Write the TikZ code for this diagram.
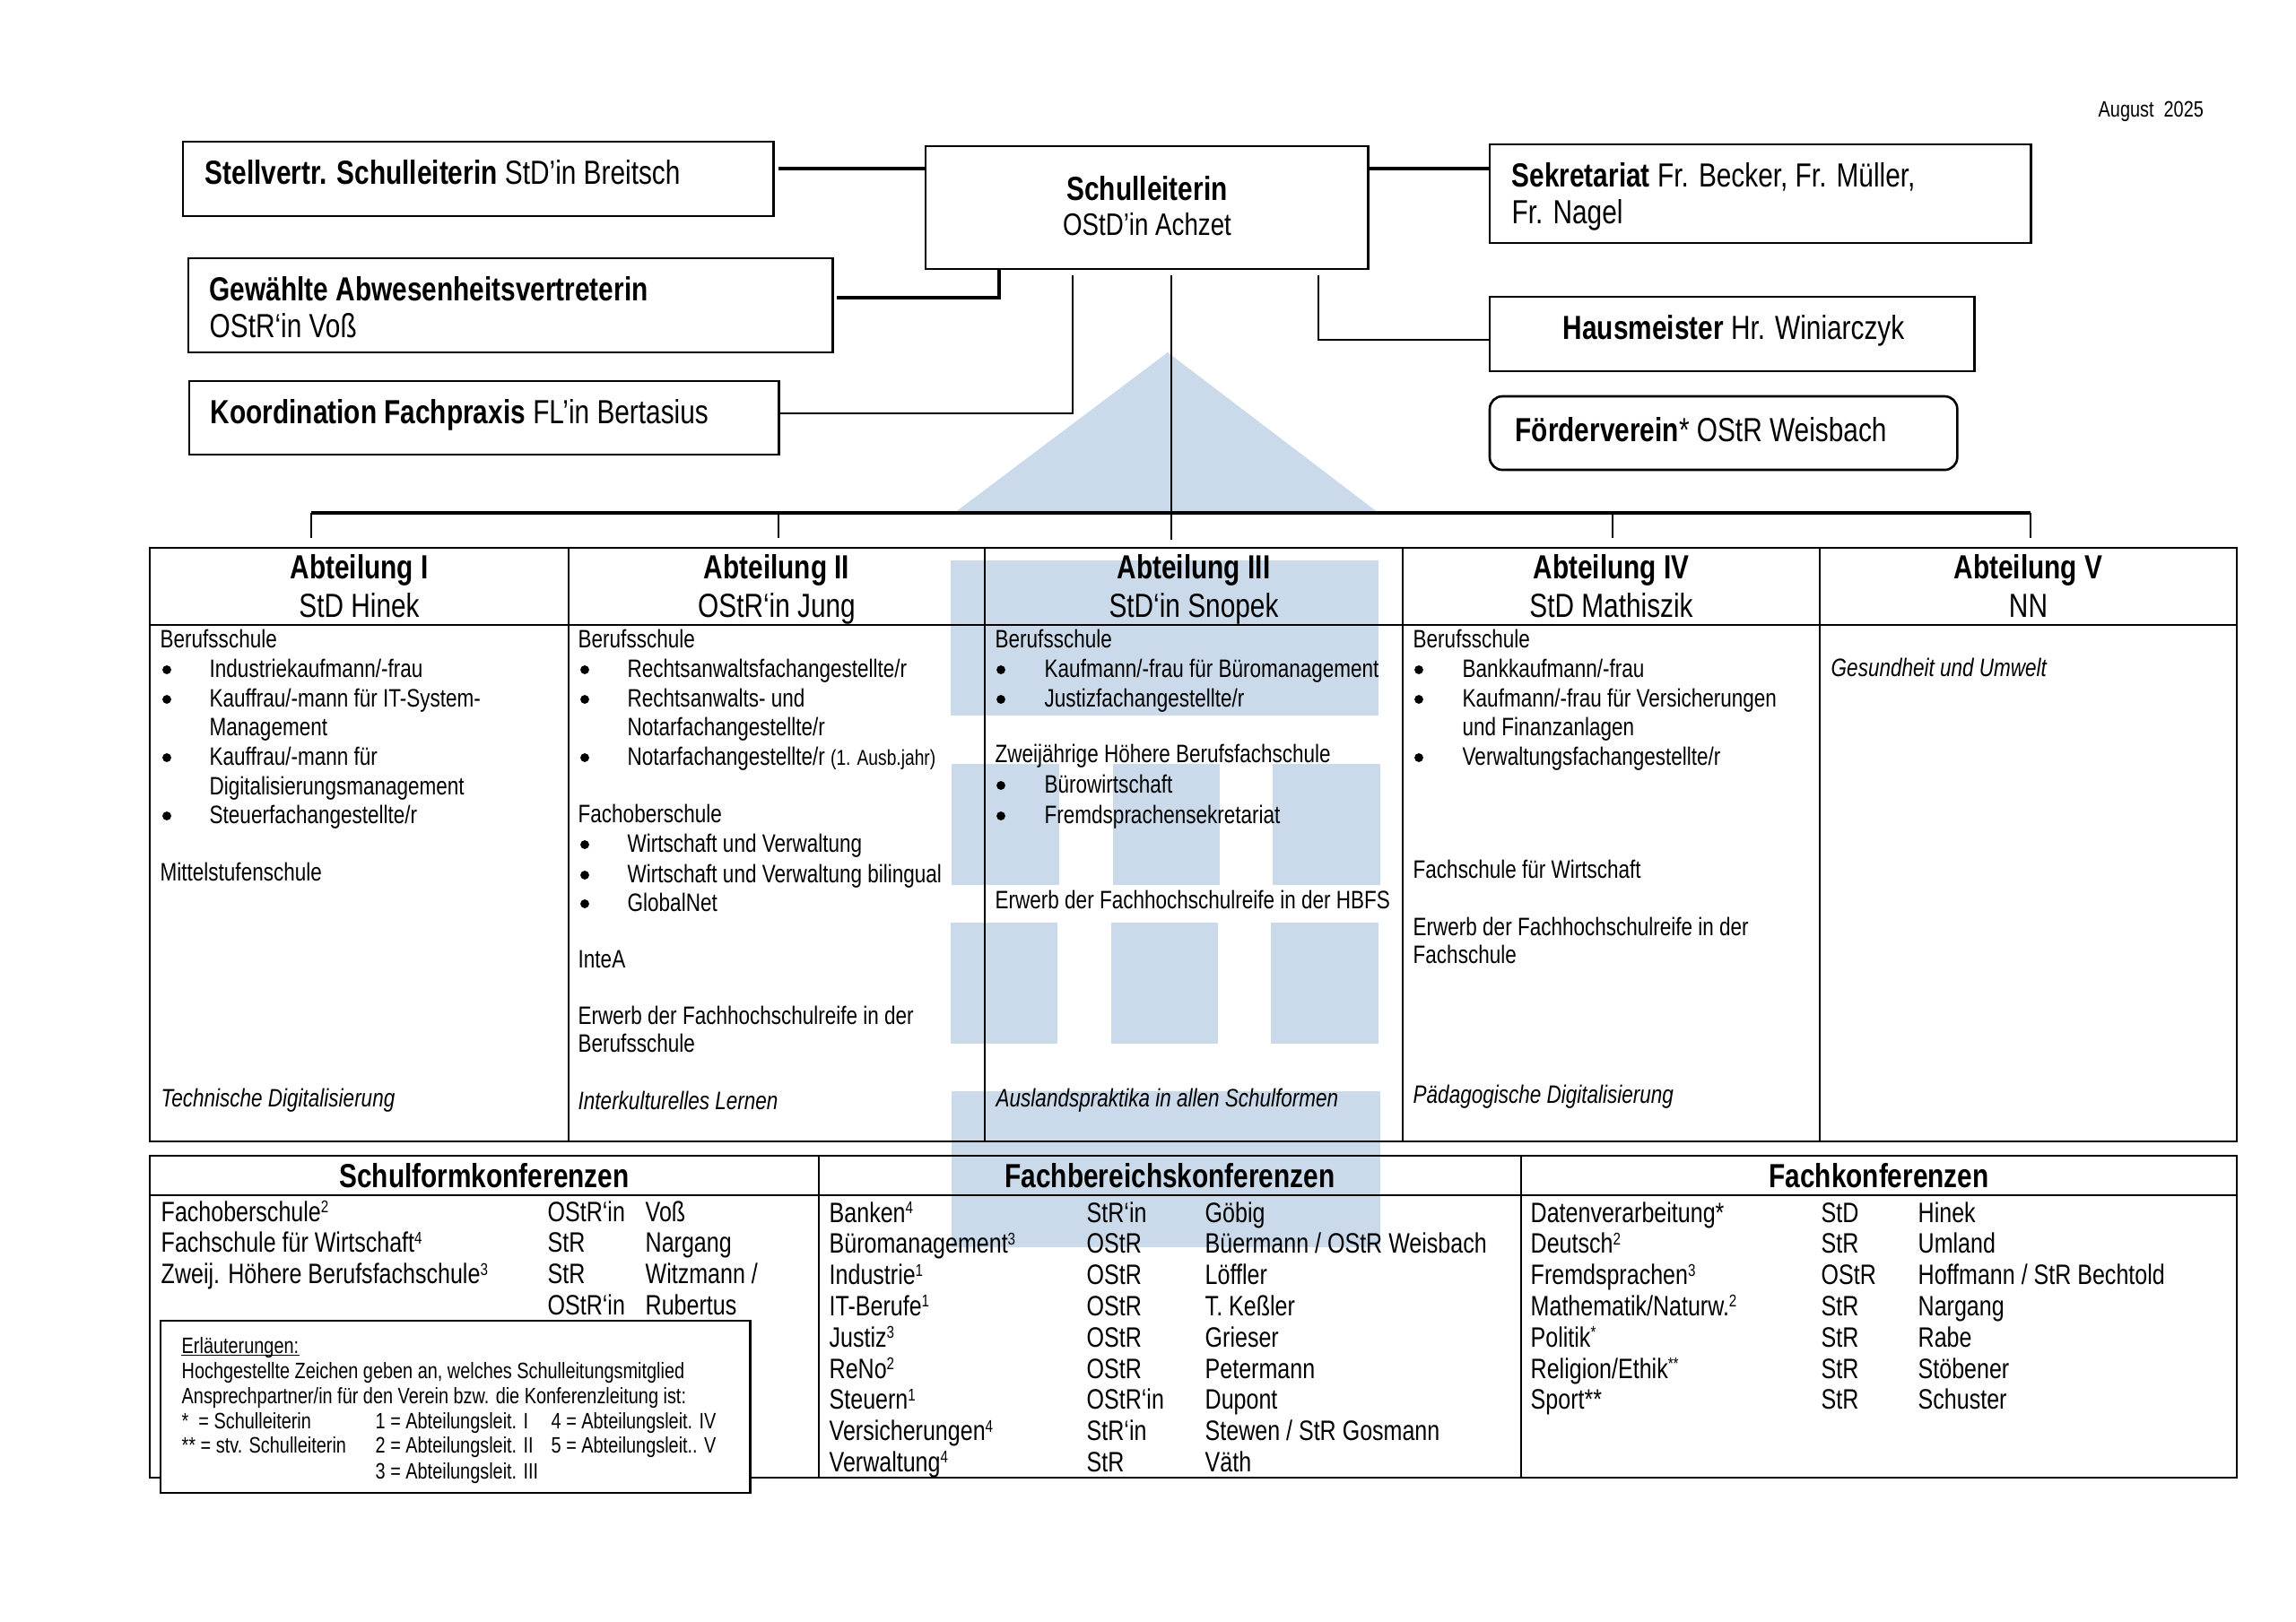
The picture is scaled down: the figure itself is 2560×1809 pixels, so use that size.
\documentclass[tikz,border=0pt]{standalone}
\usepackage{fontspec}
\setmainfont[FakeStretch=0.8]{Liberation Sans}
\usepackage{xcolor}
\usepackage{tikz}
\definecolor{hausblau}{RGB}{202,218,234}
\newcommand{\kopfschrift}{\fontsize{10.6}{12}\selectfont}
\newcommand{\zellschrift}{\fontsize{8}{9.3}\selectfont}
\newcommand{\tabschrift}{\fontsize{8.9}{10}\selectfont}
\newcommand{\kleinschrift}{\fontsize{7.07}{8}\selectfont}
\newcommand{\hoch}[1]{\raisebox{2.7pt}{\fontsize{5.4}{5.5}\selectfont #1}}
\tikzset{
  leitbox/.style={draw=black, line width=0.75pt, fill=white, anchor=north west,
                  inner sep=0pt, outer sep=0pt},
  rundbox/.style={leitbox, rounded corners=4pt},
  strang/.style={draw=black, line width=0.6pt},
  strang breit/.style={draw=black, line width=0.9pt},
  sammler/.style={draw=black, line width=1.1pt},
  gitter/.style={draw=black, line width=0.4pt},
  gitter stark/.style={draw=black, line width=0.55pt},
  kopf/.style={anchor=base west, inner sep=0pt, font=\kopfschrift},
  kopf mitte/.style={kopf, anchor=base},
  zelle/.style={anchor=base west, inner sep=0pt, font=\zellschrift},
  zelle kursiv/.style={zelle, font=\zellschrift\itshape},
  punkt/.style={circle, fill=black, inner sep=0pt, minimum size=2.8pt},
  tabzeile/.style={anchor=base west, inner sep=0pt, font=\tabschrift},
  klein/.style={anchor=base west, inner sep=0pt, font=\kleinschrift},
}
\begin{document}
\begin{tikzpicture}[x=0.01cm, y=-0.01cm]
\useasboundingbox (0,0) rectangle (2560,1809);
% Haus im Hintergrund: Dach, Band, zwei Fensterreihen, Sockel
\fill[hausblau] (1302,393) -- (1537,572) -- (1064,572) -- cycle;
\fill[hausblau] (1060,625) rectangle (1537,798);
\foreach \xl/\xr in {1061/1181,1241/1360,1419/1539}
  \fill[hausblau] (\xl,852) rectangle (\xr,987);
\foreach \xl/\xr in {1060/1179,1239/1358,1417/1537}
  \fill[hausblau] (\xl,1029) rectangle (\xr,1164);
\fill[hausblau] (1061,1217) rectangle (1539,1391);
% Kaesten oben
\node[leitbox, minimum width=6.58cm, minimum height=0.83cm] (stv) at (204,158) {};
\node[leitbox, minimum width=4.93cm, minimum height=1.37cm] (leitung) at (1032,163) {};
\node[leitbox, minimum width=7.18cm, minimum height=1.05cm] (abw) at (210,288) {};
\node[leitbox, minimum width=6.57cm, minimum height=0.82cm] (koord) at (211,425) {};
\node[leitbox, minimum width=6.03cm, minimum height=1.10cm] (sekr) at (1661,161) {};
\node[leitbox, minimum width=5.40cm, minimum height=0.83cm] (haus) at (1661,331) {};
\node[rundbox, minimum width=5.21cm, minimum height=0.82cm] (foerder) at (1661,442) {};
\node[kopf] (stvtext) at (228,205) {\textbf{Stellvertr. Schulleiterin} StD’in Breitsch};
\node[kopf mitte] (leittitel) at (1279,223) {\textbf{Schulleiterin}};
\node[kopf mitte, font=\fontsize{9.85}{12}\selectfont] (leitname) at (1279,262) {OStD’in Achzet};
\node[kopf] (abwtitel) at (233,335) {\textbf{Gewählte Abwesenheitsvertreterin}};
\node[kopf] (abwname) at (233,376) {OStR‘in Voß};
\node[kopf] (koordtext) at (234,472) {\textbf{Koordination Fachpraxis} FL’in Bertasius};
\node[kopf] (sekrtext) at (1685,208) {\textbf{Sekretariat} Fr. Becker, Fr. Müller,};
\node[kopf] (sekrtext2) at (1685,249) {Fr. Nagel};
\node[kopf] (haustext) at (1742,378) {\textbf{Hausmeister} Hr. Winiarczyk};
\node[kopf] (foerdertext) at (1689,492) {\textbf{Förderverein}* OStR Weisbach};
\node[klein] (datum) at (2339,130) {August\ \ 2025};
% Verbinder zur Schulleiterin
\coordinate (stvfrei) at (868,188);
\coordinate (abwfrei) at (933,332);
\coordinate (koordfrei) at (868,461);
\coordinate (mittefrei) at (1306,307);
\coordinate (koordoben) at (1196,307);
\coordinate (hausoben) at (1470,307);
\coordinate (sekrfrei) at (1525,188);
\draw[strang breit] (stvfrei) -- (leitung.west |- stvfrei);
\draw[strang breit] (abwfrei) -| (1114,300);
\draw[strang] (koordfrei) -| (koordoben);
\draw[strang breit] (sekrfrei) -- (sekr.west |- sekrfrei);
\draw[strang] (hausoben) |- (haus.west |- 0,379);
% Sammelschiene und Abgaenge zu den Abteilungen
\coordinate (bus1) at (347,572);
\coordinate (bus5) at (2264,572);
\draw[sammler] (bus1) -- (bus5);
\draw[strang] (mittefrei) -- (1306,602);
\foreach \xx/\nm in {347/a,868/b,1798/d,2264/e} {
  \coordinate (ab\nm) at (\xx,572);
  \coordinate (abende\nm) at (\xx,600);
  \draw[strang] (ab\nm) -- (abende\nm);
}
% Abteilungen
\foreach \xl/\xr/\titel/\leiter [count=\i] in {167/634/Abteilung I/StD Hinek,
    634/1098/Abteilung II/OStR`in Jung,
    1098/1564/Abteilung III/StD‘in Snopek,
    1564/2029/Abteilung IV/StD Mathiszik,
    2029/2494/Abteilung V/NN} {
  \draw[gitter] (\xl,611) rectangle (\xr,1273);
  \draw[gitter] (\xl,697) -- (\xr,697);
  \node[kopf mitte] (abt\i) at ({(\xl+\xr)/2},645) {\textbf{\titel}};
  \node[kopf mitte] (abtl\i) at ({(\xl+\xr)/2},688) {\leiter};
}
% Spalte I
\foreach \yy/\txt [count=\i] in {722/Berufsschule,982/Mittelstufenschule}
  \node[zelle] (a\i) at (178,\yy) {\txt};
\foreach \yy/\txt [count=\i] in {755/{Industriekaufmann/-frau},788/{Kauffrau/-mann für IT-System-},853/{Kauffrau/-mann für},918/{Steuerfachangestellte/r}} {
  \node[punkt] (ap\i) at (186,\yy-8) {};
  \node[zelle] (at\i) at (233,\yy) {\txt};
}
\foreach \yy/\txt [count=\i] in {820/Management,886/Digitalisierungsmanagement}
  \node[zelle] (aw\i) at (233,\yy) {\txt};
\node[zelle kursiv] (akurs) at (179,1234) {Technische Digitalisierung};
% Spalte II
\foreach \yy/\txt [count=\i] in {722/Berufsschule,917/Fachoberschule,1079/InteA,1142/{Erwerb der Fachhochschulreife in der},1173/Berufsschule}
  \node[zelle] (b\i) at (644,\yy) {\txt};
\foreach \yy/\txt [count=\i] in {755/{Rechtsanwaltsfachangestellte/r},788/{Rechtsanwalts- und},853/{Notarfachangestellte/r {\fontsize{6.83}{8}\selectfont(1. Ausb.jahr)}},950/{Wirtschaft und Verwaltung},984/{Wirtschaft und Verwaltung bilingual},1016/GlobalNet} {
  \node[punkt] (bp\i) at (652,\yy-8) {};
  \node[zelle] (bt\i) at (699,\yy) {\txt};
}
\node[zelle] (bw) at (699,820) {Notarfachangestellte/r};
\node[zelle kursiv] (bkurs) at (644,1237) {Interkulturelles Lernen};
% Spalte III
\foreach \yy/\txt [count=\i] in {722/Berufsschule,850/{Zweijährige Höhere Berufsfachschule},1013/{Erwerb der Fachhochschulreife in der HBFS}}
  \node[zelle] (c\i) at (1109,\yy) {\txt};
\foreach \yy/\txt [count=\i] in {755/{Kaufmann/-frau für Büromanagement},788/{Justizfachangestellte/r},884/Bürowirtschaft,918/Fremdsprachensekretariat} {
  \node[punkt] (cp\i) at (1116,\yy-8) {};
  \node[zelle] (ct\i) at (1164,\yy) {\txt};
}
\node[zelle kursiv] (ckurs) at (1110,1234) {Auslandspraktika in allen Schulformen};
% Spalte IV
\foreach \yy/\txt [count=\i] in {722/Berufsschule,979/{Fachschule für Wirtschaft},1043/{Erwerb der Fachhochschulreife in der},1074/Fachschule}
  \node[zelle] (d\i) at (1575,\yy) {\txt};
\foreach \yy/\txt [count=\i] in {755/{Bankkaufmann/-frau},788/{Kaufmann/-frau für Versicherungen},853/{Verwaltungsfachangestellte/r}} {
  \node[punkt] (dp\i) at (1582,\yy-8) {};
  \node[zelle] (dt\i) at (1630,\yy) {\txt};
}
\node[zelle] (dw) at (1630,820) {und Finanzanlagen};
\node[zelle kursiv] (dkurs) at (1575,1230) {Pädagogische Digitalisierung};
% Spalte V
\node[zelle kursiv] (ekurs) at (2041,754) {Gesundheit und Umwelt};
% Konferenzen
\foreach \xl/\xr/\titel [count=\i] in {167/913/Schulformkonferenzen,913/1696/Fachbereichskonferenzen,1696/2494/Fachkonferenzen} {
  \draw[gitter stark] (\xl,1289) rectangle (\xr,1648);
  \draw[gitter stark] (\xl,1333) -- (\xr,1333);
  \node[kopf mitte] (konf\i) at ({(\xl+\xr)/2},1324) {\textbf{\titel}};
}
\foreach \fach/\rang/\wer [count=\i] in {Fachoberschule\hoch{2}/OStR‘in/Voß,
    Fachschule für Wirtschaft\hoch{4}/StR/Nargang,
    Zweij. Höhere Berufsfachschule\hoch{3}/StR/{Witzmann /},
    {}/OStR‘in/Rubertus} {
  \node[tabzeile] (sf\i) at (179,{1362+34.8*(\i-1)}) {\fach};
  \node[tabzeile] (sr\i) at (610,{1362+34.8*(\i-1)}) {\rang};
  \node[tabzeile] (sw\i) at (719,{1362+34.8*(\i-1)}) {\wer};
}
\foreach \fach/\rang/\wer [count=\i] in {Banken\hoch{4}/StR‘in/Göbig,
    Büromanagement\hoch{3}/OStR/{Büermann / OStR Weisbach},
    Industrie\hoch{1}/OStR/Löffler,
    IT-Berufe\hoch{1}/OStR/T. Keßler,
    Justiz\hoch{3}/OStR/Grieser,
    ReNo\hoch{2}/OStR/Petermann,
    Steuern\hoch{1}/OStR‘in/Dupont,
    Versicherungen\hoch{4}/StR‘in/{Stewen / StR Gosmann},
    Verwaltung\hoch{4}/StR/Väth} {
  \node[tabzeile] (bf\i) at (924,{1363+34.8*(\i-1)}) {\fach};
  \node[tabzeile] (br\i) at (1211,{1363+34.8*(\i-1)}) {\rang};
  \node[tabzeile] (bb\i) at (1343,{1363+34.8*(\i-1)}) {\wer};
}
\foreach \fach/\rang/\wer [count=\i] in {Datenverarbeitung*/StD/Hinek,
    Deutsch\hoch{2}/StR/Umland,
    Fremdsprachen\hoch{3}/OStR/{Hoffmann / StR Bechtold},
    {Mathematik/Naturw.\hoch{2}}/StR/Nargang,
    Politik\hoch{*}/StR/Rabe,
    {Religion/Ethik\hoch{**}}/StR/Stöbener,
    Sport**/StR/Schuster} {
  \node[tabzeile] (ff\i) at (1706,{1363+34.8*(\i-1)}) {\fach};
  \node[tabzeile] (fr\i) at (2030,{1363+34.8*(\i-1)}) {\rang};
  \node[tabzeile] (fw\i) at (2138,{1363+34.8*(\i-1)}) {\wer};
}
% Erlaeuterungen liegen ueber der Tabelle
\node[leitbox, minimum width=6.57cm, minimum height=1.92cm] (legende) at (179,1473) {};
\node[klein] (l1) at (202,1509) {Erläuterungen:};
\draw[line width=0.3pt] ([yshift=-0.7pt]l1.base west) -- ([yshift=-0.7pt]l1.base east);
\node[klein] (l2) at (202,1537) {Hochgestellte Zeichen geben an, welches Schulleitungsmitglied};
\node[klein] (l3) at (202,1565) {Ansprechpartner/in für den Verein bzw. die Konferenzleitung ist:};
\node[klein] (l4) at (202,1593) {*\ \ = Schulleiterin};
\node[klein] (l5) at (202,1620) {** = stv. Schulleiterin};
\node[klein] (m1) at (418,1593) {1 = Abteilungsleit. I};
\node[klein] (m2) at (418,1620) {2 = Abteilungsleit. II};
\node[klein] (m3) at (418,1649) {3 = Abteilungsleit. III};
\node[klein] (r1) at (614,1593) {4 = Abteilungsleit. IV};
\node[klein] (r2) at (614,1620) {5 = Abteilungsleit.. V};
\end{tikzpicture}
\end{document}
